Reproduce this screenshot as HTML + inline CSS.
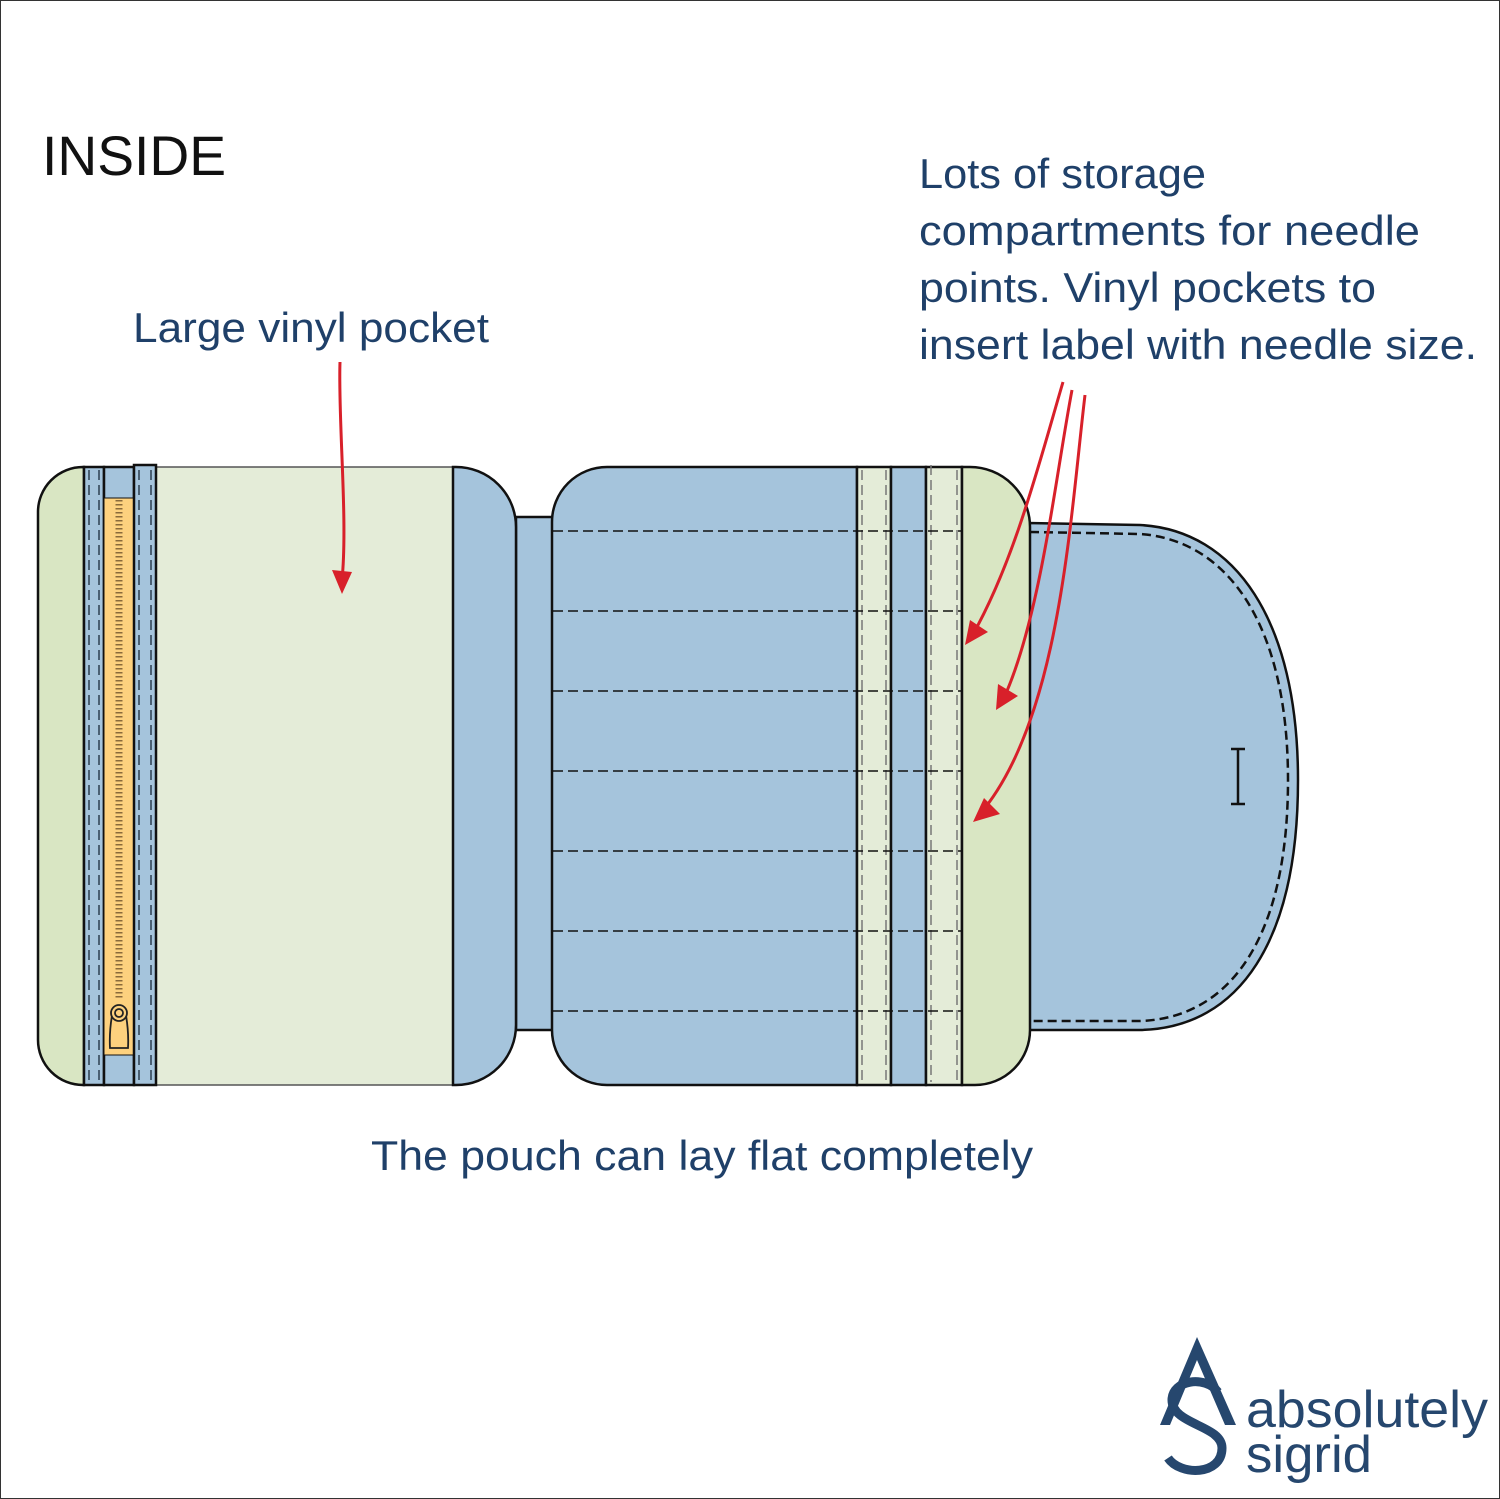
<!DOCTYPE html>
<html><head><meta charset="utf-8"><style>
html,body{margin:0;padding:0;background:#fff}
svg{display:block}
text{font-family:"Liberation Sans",sans-serif}
</style></head><body>
<svg width="1500" height="1499" viewBox="0 0 1500 1499" xmlns="http://www.w3.org/2000/svg">
<rect x="0.5" y="0.5" width="1499" height="1498" fill="#fff" stroke="#333" stroke-width="1"/>
<text x="42" y="175" font-size="56" fill="#111" textLength="184" lengthAdjust="spacingAndGlyphs">INSIDE</text>
<g fill="#1f4069" font-size="42">
<text x="133" y="342" textLength="356" lengthAdjust="spacingAndGlyphs">Large vinyl pocket</text>
<text x="919" y="188" textLength="287" lengthAdjust="spacingAndGlyphs">Lots of storage</text>
<text x="919" y="245" textLength="501" lengthAdjust="spacingAndGlyphs">compartments for needle</text>
<text x="919" y="302" textLength="457" lengthAdjust="spacingAndGlyphs">points. Vinyl pockets to</text>
<text x="919" y="359" textLength="558" lengthAdjust="spacingAndGlyphs">insert label with needle size.</text>
<text x="371" y="1170" textLength="662" lengthAdjust="spacingAndGlyphs">The pouch can lay flat completely</text>
</g>
<g stroke="#111" stroke-width="2.5">
<path d="M1027 523 L1140 525 C1235 530 1298 620 1298 780 C1298 940 1240 1028 1140 1030 L1027 1030 Z" fill="#a5c4dc"/>
<path d="M1030 532 L1140 534 C1228 540 1288 625 1288 780 C1288 935 1232 1018 1140 1021 L1030 1021" fill="none" stroke-dasharray="9,5"/>
<path d="M1238 748 V805 M1231 749 H1245 M1231 804 H1245" fill="none"/>
<rect x="516" y="517" width="37" height="513" fill="#a5c4dc"/>
<path d="M84 467 L84 1085 L83 1085 A45 45 0 0 1 38 1040 L38 512 A45 45 0 0 1 83 467 Z" fill="#d9e6c3"/>
<rect x="156" y="467" width="297" height="618" fill="#e4ecd8" stroke="#555" stroke-width="1.5"/>
<path d="M453 467 L456 467 A60 60 0 0 1 516 527 L516 1025 A60 60 0 0 1 456 1085 L453 1085 Z" fill="#a5c4dc"/>
<rect x="84" y="467" width="20" height="618" fill="#a5c4dc"/>
<rect x="104" y="467" width="30" height="618" fill="#a5c4dc"/>
<rect x="104" y="498" width="30" height="557" fill="#fdd17e" stroke-width="1"/>
<rect x="134" y="465" width="22" height="620" fill="#a5c4dc"/>
<path d="M857 467 L857 1085 L607 1085 A55 55 0 0 1 552 1030 L552 522 A55 55 0 0 1 607 467 Z" fill="#a5c4dc"/>
<rect x="857" y="467" width="34" height="618" fill="#e4ecd8"/>
<rect x="891" y="467" width="35" height="618" fill="#a5c4dc"/>
<rect x="926" y="467" width="36" height="618" fill="#e4ecd8"/>
<path d="M962 467 L970 467 A60 60 0 0 1 1030 527 L1030 1030 A55 55 0 0 1 975 1085 L962 1085 Z" fill="#d9e6c3"/>
</g>
<g stroke="#2c3e50" stroke-width="1.5" stroke-dasharray="10,5" fill="none">
<path d="M89 470V1082 M99 470V1082 M139 470V1082 M151 470V1082"/>
<path d="M862 470V1082 M886 470V1082 M931 465V1082 M957 470V1082" stroke="#777"/>
<path d="M553 531H962 M553 611H962 M553 691H962 M553 771H962 M553 851H962 M553 931H962 M553 1011H962" stroke="#111" stroke-width="1.5"/>
</g>
<line x1="119" y1="500" x2="119" y2="1000" stroke="#8a6a3a" stroke-width="7" stroke-dasharray="1.5,2.5"/>
<g stroke="#222" stroke-width="1.8" fill="#fdd17e">
<path d="M113 1010 Q109 1030 110 1048 L128 1048 Q129 1030 125 1010 Z"/>
<circle cx="119" cy="1013" r="8"/>
<circle cx="119" cy="1013" r="4"/>
</g>
<g stroke="#d8202a" stroke-width="3" fill="none">
<path d="M340 362 C338 420 348 520 342 580"/>
<path d="M1063 382 C1040 460 1015 560 972 636"/>
<path d="M1072 390 C1055 480 1040 620 1003 700"/>
<path d="M1085 395 C1070 520 1060 720 980 814"/>
</g>
<g fill="#d8202a">
<polygon points="342,594 332,570 352,572"/>
<polygon points="965,645 970,620 988,632"/>
<polygon points="996,710 998,684 1018,696"/>
<polygon points="973,822 984,798 1000,814"/>
</g>
<g fill="#26476e">
<polygon points="1197,1337 1160,1425 1170,1425 1197,1360 1225,1425 1236,1425"/>
<path d="M1218 1392 C1205 1375 1172 1380 1172 1400 C1172 1425 1222 1425 1222 1448 C1222 1476 1180 1476 1168 1458" fill="none" stroke="#26476e" stroke-width="9"/>
<text x="1246" y="1427" font-size="52" textLength="242" lengthAdjust="spacingAndGlyphs">absolutely</text>
<text x="1246" y="1472" font-size="52" textLength="126" lengthAdjust="spacingAndGlyphs">sigrid</text>
</g>
</svg>
</body></html>
